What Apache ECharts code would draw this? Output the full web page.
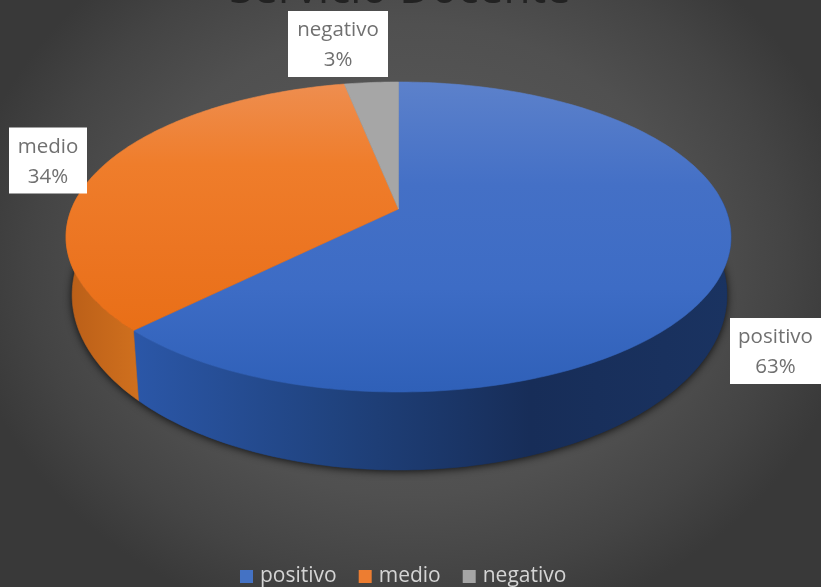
<!DOCTYPE html>
<html><head><meta charset="utf-8">
<style>html,body{margin:0;padding:0;width:821px;height:587px;overflow:hidden}
#c{width:821px;height:587px;background:radial-gradient(ellipse 450px 380px at 410px 260px,#5d5d5d 0%,#505050 62%,#444444 84%,#393939 100%)}</style>
<script src="https://cdn.jsdelivr.net/npm/echarts@6/dist/echarts.min.js"></script>
</head><body><div id="c"></div>
<script>
const titleText = 'Servicio Docente';
const categories = ['positivo', 'medio', 'negativo'];
const values = [20, 11, 1];
const colors = ['#4472C4', '#ED7D31', '#A5A5A5'];

const total = values.reduce((a, b) => a + b, 0);
const topRim = {cx: 398.5, a: -112.2, b: 209, c: 0.1806, d: 327};
const botRim = {cx: 399.5, a: -121.7, b: 263.4, c: 0.1806, d: 322};
function rim(p, deg) {
  const t = deg * Math.PI / 180, u = Math.sin(t), v = Math.cos(t), w = 1 + p.c * v;
  return [p.cx + p.d * u / w, (p.a * v + p.b) / w];
}
function arc(p, from, to) {
  const pts = [], n = Math.max(2, Math.ceil(Math.abs(to - from)));
  for (let i = 0; i <= n; i++) pts.push(rim(p, from + (to - from) * i / n));
  return pts;
}
function grad(x, y, x2, y2, stops) {
  return new echarts.graphic.LinearGradient(x, y, x2, y2, stops.map((c, i) => ({offset: i / (stops.length - 1), color: c})), true);
}
const topFill = [
  () => grad(0, 82, 0, 392, ['#5c81cb', '#4470c6', '#3d6cc5', '#2f60b8']),
  () => grad(0, 82, 0, 330, ['#ee8e50', '#ef7d2b', '#ec7522', '#e96f17']),
  () => '#a6a6a6'
];
const wallFill = [
  () => grad(133, 0, 730, 0, ['#2b57a8', '#20437f', '#172d58', '#1a3361']),
  () => grad(70, 0, 139, 0, ['#bb5f18', '#d0701e']),
  () => '#7c7c7c'
];
const labelBox = [[775.5, 351, 91], [48, 160.5, 78], [338, 44, 100]];

let acc = 0;
const spans = values.map(v => { const s = acc / total * 360; acc += v; return [s, acc / total * 360]; });

const series = categories.map((name, i) => ({
  type: 'custom',
  name,
  coordinateSystem: 'none',
  silent: true,
  itemStyle: {color: colors[i]},
  data: [[values[i]]],
  renderItem: function (params, api) {
    const [s, e] = spans[i];
    const children = [];
    if (i === 0) {
      children.push({type: 'polygon', shape: {points: arc(botRim, 0, 360)},
        style: {fill: '#1a2a48', shadowBlur: 8, shadowColor: 'rgba(0,0,0,0.85)', shadowOffsetY: 1}});
    }
    const ws = Math.max(s, 85), we = Math.min(e, 275);
    if (we > ws) {
      const wall = arc(topRim, ws, we).concat(arc(botRim, we, ws));
      children.push({type: 'polygon', shape: {points: wall}, style: {fill: wallFill[i](), stroke: wallFill[i](), lineWidth: 0.6}});
    }
    children.push({type: 'polygon', shape: {points: [[topRim.cx, topRim.b]].concat(arc(topRim, s, e))},
      style: {fill: topFill[i](), stroke: topFill[i](), lineWidth: 0.6}});
    const pct = Math.round(api.value(0) / total * 100);
    const b = labelBox[i];
    children.push({type: 'rect', shape: {x: b[0] - b[2] / 2, y: b[1] - 33, width: b[2], height: 66}, style: {fill: '#fff'}});
    children.push({type: 'text', x: b[0], y: b[1] + 1.5, style: {
      text: name + '\n' + pct + '%', fill: '#707070', font: '20.5px "Open Sans"', lineHeight: 30,
      align: 'center', verticalAlign: 'middle'}});
    return {type: 'group', children};
  }
}));

const chart = echarts.init(document.getElementById('c'), null, {renderer: 'canvas'});
chart.setOption({
  animation: false,
  backgroundColor: 'transparent',
  title: {text: titleText, left: 395, textAlign: 'center', top: -37,
    textStyle: {fontFamily: 'Open Sans', fontSize: 44, fontWeight: 'normal', color: '#222'}},
  legend: {data: categories, top: 561, left: 235, icon: 'rect', itemWidth: 13, itemHeight: 13, itemGap: 22,
    textStyle: {fontFamily: 'Open Sans', fontSize: 21, color: '#d4d4d4', padding: [0, 0, 0, 2]}},
  series
});
</script></body></html>
